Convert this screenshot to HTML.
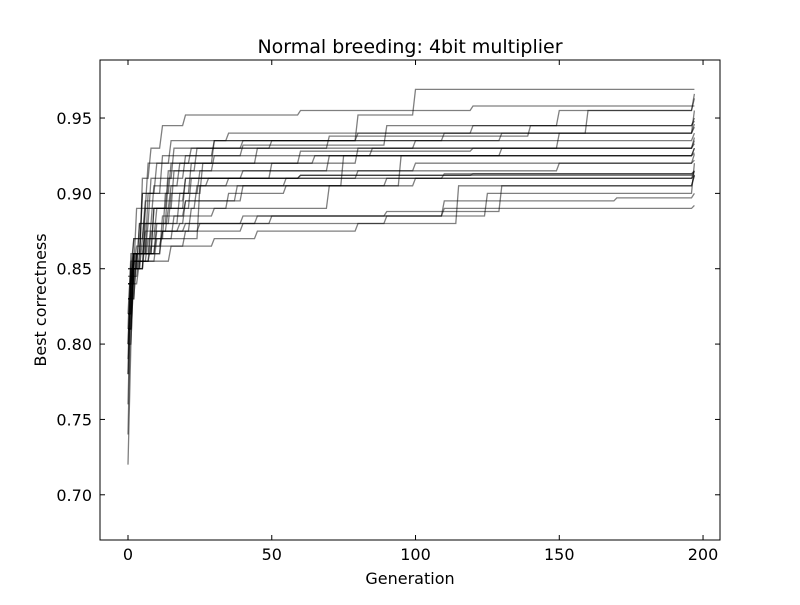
<!DOCTYPE html>
<html><head><meta charset="utf-8"><style>
body{margin:0;background:#fff;}
svg text{font-family:"DejaVu Sans","Liberation Sans",sans-serif;}
</style></head><body>
<svg id="chart" width="800" height="600" xmlns="http://www.w3.org/2000/svg">
<rect width="800" height="600" fill="#fff"/>
<text x="410" y="53" font-size="19" text-anchor="middle">Normal breeding: 4bit multiplier</text>
<g id="lines"></g>
<g id="axes"></g>
<text x="410" y="584" font-size="16" text-anchor="middle">Generation</text>
<text transform="translate(46,300) rotate(-90)" font-size="16" text-anchor="middle">Best correctness</text>
</svg>
<script>
const xTicks=[0,50,100,150,200];
const yTicks=[0.70,0.75,0.80,0.85,0.90,0.95];
const yTickLabels=["0.70","0.75","0.80","0.85","0.90","0.95"];
const s1=[[0,0.72],[1,0.80],[2,0.85],[5,0.91],[8,0.93],[12,0.945],[20,0.952],[60,0.955],[120,0.958],[197,0.958]];
const s2=[[0,0.78],[1,0.84],[3,0.86],[7,0.90],[15,0.92],[30,0.935],[80,0.952],[100,0.969],[197,0.969]];
const s3=[[0,0.81],[2,0.85],[6,0.88],[14,0.91],[20,0.925],[40,0.932],[90,0.945],[150,0.955],[197,0.966]];
const s4=[[0,0.84],[2,0.855],[10,0.87],[25,0.905],[35,0.91],[60,0.912],[120,0.913],[197,0.914]];
const s5=[[0,0.80],[1,0.845],[4,0.86],[12,0.875],[20,0.88],[40,0.885],[110,0.89],[197,0.892]];
const s6=[[0,0.83],[2,0.855],[8,0.875],[18,0.88],[45,0.885],[110,0.895],[170,0.897],[197,0.90]];
const s7=[[0,0.74],[1,0.83],[3,0.86],[9,0.89],[16,0.915],[24,0.93],[50,0.935],[110,0.94],[197,0.944]];
const s8=[[0,0.82],[2,0.85],[6,0.87],[13,0.90],[22,0.92],[65,0.925],[130,0.93],[197,0.937]];
const s9=[[0,0.81],[2,0.86],[5,0.90],[10,0.92],[22,0.93],[70,0.938],[140,0.945],[197,0.95]];
const s10=[[0,0.76],[1,0.84],[4,0.855],[15,0.865],[30,0.87],[45,0.875],[80,0.88],[115,0.905],[197,0.912]];
const s11=[[0,0.83],[3,0.86],[10,0.88],[20,0.895],[40,0.905],[100,0.91],[197,0.915]];
const s12=[[0,0.84],[2,0.87],[6,0.89],[15,0.905],[28,0.91],[80,0.915],[150,0.92],[197,0.922]];
const s13=[[0,0.80],[1,0.85],[4,0.88],[9,0.905],[18,0.92],[45,0.93],[100,0.935],[197,0.94]];
const s14=[[0,0.82],[2,0.855],[7,0.87],[16,0.885],[30,0.89],[70,0.905],[95,0.925],[197,0.93]];
const s15=[[0,0.85],[3,0.865],[12,0.875],[25,0.88],[50,0.885],[90,0.888],[130,0.905],[197,0.912]];
const s16=[[0,0.78],[1,0.85],[3,0.89],[7,0.92],[15,0.935],[35,0.94],[120,0.945],[197,0.948]];
const s17=[[0,0.82],[2,0.86],[9,0.89],[20,0.91],[40,0.915],[100,0.92],[197,0.926]];
const s18=[[0,0.84],[2,0.86],[8,0.88],[18,0.90],[26,0.92],[60,0.928],[120,0.93],[197,0.933]];
const s19=[[0,0.81],[1,0.86],[5,0.90],[12,0.925],[30,0.935],[80,0.94],[160,0.955],[197,0.963]];
const s20=[[0,0.83],[2,0.86],[6,0.875],[14,0.89],[24,0.905],[55,0.91],[110,0.913],[197,0.915]];
const s21=[[0,0.80],[2,0.85],[5,0.87],[10,0.89],[22,0.91],[50,0.92],[80,0.93],[197,0.935]];
const s22=[[0,0.85],[2,0.87],[6,0.895],[20,0.91],[60,0.912],[197,0.913]];
const s23=[[0,0.82],[1,0.855],[8,0.865],[20,0.875],[40,0.88],[90,0.885],[125,0.90],[197,0.92]];
const s24=[[0,0.79],[1,0.85],[4,0.88],[8,0.91],[16,0.93],[40,0.935],[130,0.94],[197,0.946]];
const s25=[[0,0.84],[2,0.86],[12,0.885],[20,0.895],[38,0.905],[90,0.91],[197,0.912]];
const s26=[[0,0.83],[2,0.86],[7,0.88],[15,0.90],[25,0.915],[70,0.925],[197,0.927]];
const s27=[[0,0.81],[2,0.85],[6,0.89],[14,0.915],[30,0.925],[85,0.93],[150,0.94],[197,0.955]];
const s28=[[0,0.845],[2,0.86],[10,0.875],[22,0.89],[35,0.90],[55,0.905],[75,0.925],[197,0.93]];
const series=[s1,s2,s3,s4,s5,s6,s7,s8,s9,s10,s11,s12,s13,s14,s15,s16,s17,s18,s19,s20,s21,s22,s23,s24,s25,s26,s27,s28];
const L=100,T=60,R=720,B=540;
const xmin=-9.74,xmax=205.9,ymin=0.670,ymax=0.9885;
function xs(v){return L+(v-xmin)/(xmax-xmin)*(R-L);}
function ys(v){return B-(v-ymin)/(ymax-ymin)*(B-T);}
const NS="http://www.w3.org/2000/svg";
const lg=document.getElementById('lines');
series.forEach((s,i)=>{
  const pts=[];
  s.forEach((d,j)=>{
    if(j>0){const prev=s[j-1];const xj=Math.max(prev[0],d[0]-1);pts.push([xj,prev[1]]);}
    pts.push(d);
  });
  const p=document.createElementNS(NS,'polyline');
  p.setAttribute('points',pts.map(d=>xs(d[0]).toFixed(1)+','+ys(d[1]).toFixed(1)).join(' '));
  p.setAttribute('fill','none');p.setAttribute('stroke','rgba(0,0,0,0.5)');p.setAttribute('stroke-width','1.3');
  
  
  lg.appendChild(p);
});
const ax=document.getElementById('axes');
const fr=document.createElementNS(NS,'rect');
fr.setAttribute('x',L);fr.setAttribute('y',T);fr.setAttribute('width',R-L);fr.setAttribute('height',B-T);
fr.setAttribute('fill','none');fr.setAttribute('stroke','#000');fr.setAttribute('stroke-width','1');


ax.appendChild(fr);
function line(x1,y1,x2,y2,n){const l=document.createElementNS(NS,'line');l.setAttribute('x1',x1);l.setAttribute('y1',y1);l.setAttribute('x2',x2);l.setAttribute('y2',y2);l.setAttribute('stroke','#000');


ax.appendChild(l);}
function text(x,y,s,a,n){const t=document.createElementNS(NS,'text');t.setAttribute('x',x);t.setAttribute('y',y);t.setAttribute('font-size','16');t.setAttribute('text-anchor',a);t.textContent=s;


ax.appendChild(t);}
xTicks.forEach(v=>{const x=xs(v);line(x,B,x,B-5,'x-tick');line(x,T,x,T+5,'x-tick-top');text(x,B+20,String(v),'middle','x-tick-label');});
yTicks.forEach((v,i)=>{const y=ys(v);line(L,y,L+5,y,'y-tick');line(R,y,R-5,y,'y-tick-right');text(L-8,y+6,yTickLabels[i],'end','y-tick-label');});
</script>
</body></html>
